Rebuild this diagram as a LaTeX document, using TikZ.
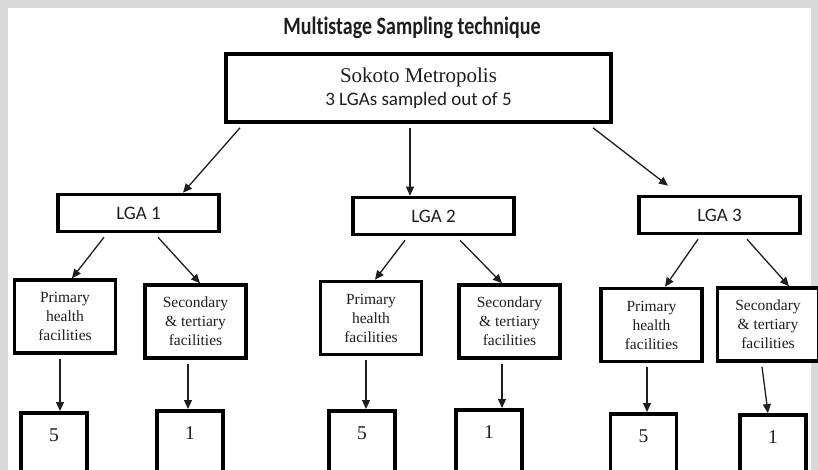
\documentclass[tikz,border=0pt]{standalone}
\usepackage{fontspec}
\setmainfont{Liberation Serif}
\newfontfamily\calibri[Ligatures=NoCommon]{Carlito}
\usetikzlibrary{arrows.meta}

\definecolor{framegrey}{RGB}{216,217,219}
\definecolor{inkgrey}{RGB}{30,30,30}

\begin{document}
\begin{tikzpicture}[
    x=1pt, y=-1pt,
    every node/.style={text=inkgrey},
    box/.style={draw=black, line width=3.6pt, fill=white, inner sep=0pt},
    topbox/.style={box, minimum width=385, minimum height=68, align=center,
                   font=\calibri\fontsize{19}{23}\selectfont},
    lgabox/.style={box, minimum width=161, minimum height=37,
                   font=\calibri\fontsize{19}{22}\selectfont},
    facbox/.style={box, minimum width=101, minimum height=73, align=center,
                   font=\fontsize{15.5}{19}\selectfont},
    numbox/.style={box, anchor=north, minimum width=66, text height=13.5pt,
                   text depth=50pt, inner ysep=15.2pt, font=\fontsize{19.5}{22}\selectfont},
    arr/.style={-{Triangle[length=9pt, width=8pt]}, line width=1.3pt, draw=inkgrey},
  ]
    % Page: grey frame round a white sheet
    \useasboundingbox (0,0) rectangle (818,470);
    \clip (0,0) rectangle (818,470);
    \fill[framegrey] (0,0) rectangle (818,470);
    \fill[white] (8,8) rectangle (811,470);

    % Title
    \node[font=\calibri\bfseries\fontsize{20}{24}\selectfont] (title) at (412,28)
      {\scalebox{1}[1.25]{Multistage Sampling technique}};

    % Stage 1: the metropolis
    \node[topbox] (top) at (418.5,88)
      {{\rmfamily\fontsize{21}{23}\selectfont Sokoto Metropolis}\\ 3 LGAs sampled out of 5};

    % Stage 2: the sampled LGAs
    \node[lgabox] (lga1) at (138.5,213) {LGA 1};
    \node[lgabox] (lga2) at (433.5,216) {LGA 2};
    \node[lgabox] (lga3) at (719.5,215) {LGA 3};

    % Stage 3: kinds of facility in each LGA
    \node[facbox] (prim1) at (65,316.5)  {Primary\\ health\\ facilities};
    \node[facbox] (sec1)  at (195.5,321.5) {Secondary\\ \& tertiary\\ facilities};
    \node[facbox] (prim2) at (371,318)   {Primary\\ health\\ facilities};
    \node[facbox] (sec2)  at (509.5,321.5) {Secondary\\ \& tertiary\\ facilities};
    \node[facbox] (prim3) at (651.5,325) {Primary\\ health\\ facilities};
    \node[facbox] (sec3)  at (768,324.5) {Secondary\\ \& tertiary\\ facilities};

    % Stage 4: facilities sampled (boxes run off the bottom)
    \node[numbox] (num1) at (54,411)    {5};
    \node[numbox] (num2) at (190,409)   {1};
    \node[numbox] (num3) at (362,409)   {5};
    \node[numbox] (num4) at (489,408)   {1};
    \node[numbox] (num5) at (643.5,412) {5};
    \node[numbox] (num6) at (773,413)   {1};

    % Connectors: source/start shift/target/end shift/gap above target
    \foreach \src/\sx/\dst/\dx/\dy in {
        top/-178.5/lga1/44.5/0, top/-8.5/lga2/-23.5/0, top/174.5/lga3/-51.5/9,
        lga1/-34.5/prim1/7/0, lga1/19.5/sec1/4.5/0,
        lga2/-28.5/prim2/4/0, lga2/26.5/sec2/-7.5/0,
        lga3/-21.5/prim3/13.5/0, lga3/27.5/sec3/21/0,
        prim1/-5/num1/6/0, sec1/-7.5/num2/-2/0, prim2/-5/num3/4/0,
        sec2/-7.5/num4/13/0, prim3/-4.5/num5/3.5/0, sec3/-6/num6/-5/0} {
      \draw[arr] ([xshift=\sx pt, yshift=-4pt]\src.south) -- ([xshift=\dx pt, yshift=\dy pt]\dst.north);
    }

\end{tikzpicture}
\end{document}
